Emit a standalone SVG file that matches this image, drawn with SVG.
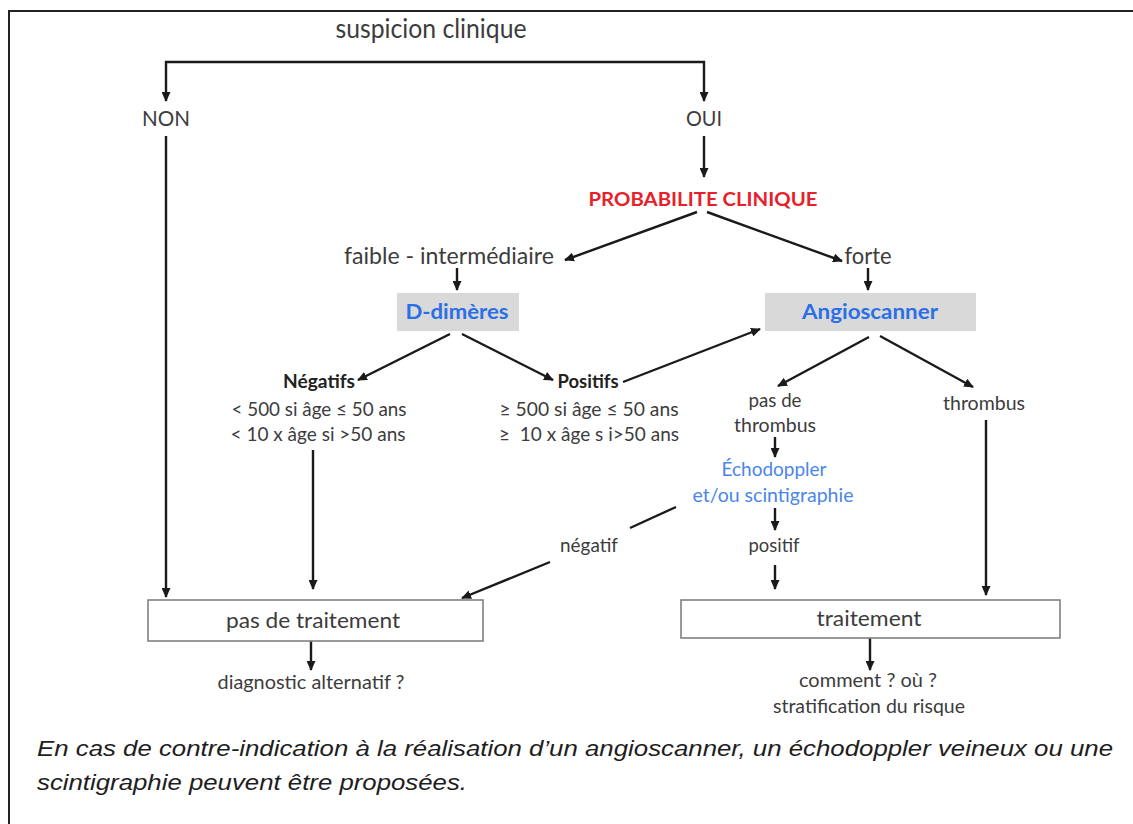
<svg xmlns="http://www.w3.org/2000/svg" width="1133" height="824" viewBox="0 0 1133 824">
<defs>
<marker id="ah" markerUnits="userSpaceOnUse" markerWidth="10" markerHeight="9" refX="9" refY="4.5" orient="auto">
<path d="M0,0 L10,4.5 L0,9 z" fill="#1a1a1a"/>
</marker>
<style>
.t{font-family:Lato,"Open Sans",sans-serif;fill:#3c3c3c;text-anchor:middle}
.b{font-weight:bold}
.c{stroke:#1a1a1a;stroke-width:2.4;fill:none}
.a{marker-end:url(#ah)}
.gray{fill:#d9d9d9}
.box{fill:#ffffff;stroke:#808080;stroke-width:1.6}
.foot{font-family:"Liberation Sans",Arial,sans-serif;font-style:italic;fill:#1e1e1e;font-size:22px}
</style>
</defs>
<rect width="1133" height="824" fill="#ffffff"/>
<path d="M9,824 V11 H1133" fill="none" stroke="#222" stroke-width="2"/>

<g id="connectors">
<path class="c a" d="M435,62 H166 V101"/>
<path class="c a" d="M435,62 H704 V101"/>
<path class="c a" d="M166,136 V597"/>
<path class="c a" d="M704,136 V177"/>
<path class="c a" d="M697,212 L565,260"/>
<path class="c a" d="M707,212 L842,261"/>
<path class="c a" d="M457,268 V290"/>
<path class="c a" d="M868,268 V290"/>
<path class="c a" d="M450,334 L358,380"/>
<path class="c a" d="M462,334 L553,380"/>
<path class="c a" d="M623,382 L760,329"/>
<path class="c a" d="M869,337 L778,386"/>
<path class="c a" d="M880,336 L973,387"/>
<path class="c a" d="M775,437 V457"/>
<path class="c a" d="M775,508 V530"/>
<path class="c a" d="M775,565 V589"/>
<path class="c a" d="M986,420 V595"/>
<path class="c" d="M676,507 L630,528"/>
<path class="c a" d="M550,562 L462,598"/>
<path class="c a" d="M313,450 V589"/>
<path class="c a" d="M311,641 V670"/>
<path class="c a" d="M870,638 V670"/>
</g>

<g id="suspicion"><text class="t" x="431" y="38" font-size="26" textLength="191" lengthAdjust="spacingAndGlyphs">suspicion clinique</text></g>
<g id="non"><text class="t" x="166" y="126" font-size="22" textLength="48" lengthAdjust="spacingAndGlyphs">NON</text></g>
<g id="oui"><text class="t" x="704" y="126" font-size="22" textLength="36" lengthAdjust="spacingAndGlyphs">OUI</text></g>
<g id="probabilite"><text class="t b" x="703" y="206" font-size="19" style="fill:#e8202a" textLength="229" lengthAdjust="spacingAndGlyphs">PROBABILITE CLINIQUE</text></g>
<g id="faible"><text class="t" x="449" y="264" font-size="23" textLength="210" lengthAdjust="spacingAndGlyphs">faible - intermédiaire</text></g>
<g id="forte"><text class="t" x="868" y="264" font-size="23" textLength="47" lengthAdjust="spacingAndGlyphs">forte</text></g>
<g id="ddimeres">
<rect class="gray" x="397" y="293" width="122" height="38"/>
<text class="t b" x="457" y="319" font-size="20" style="fill:#2a6fe6" textLength="103" lengthAdjust="spacingAndGlyphs">D-dimères</text>
</g>
<g id="angioscanner">
<rect class="gray" x="765" y="293" width="211" height="38"/>
<text class="t b" x="870" y="319" font-size="20" style="fill:#2a6fe6" textLength="136" lengthAdjust="spacingAndGlyphs">Angioscanner</text>
</g>
<g id="negatifs">
<text class="t b" x="319" y="388" font-size="19" style="fill:#222" textLength="72" lengthAdjust="spacingAndGlyphs">Négatifs</text>
<text class="t" x="319" y="416" font-size="20" textLength="175" lengthAdjust="spacingAndGlyphs">&lt; 500 si âge ≤ 50 ans</text>
<text class="t" x="318" y="441" font-size="20" textLength="175" lengthAdjust="spacingAndGlyphs">&lt; 10 x âge si &gt;50 ans</text>
</g>
<g id="positifs">
<text class="t b" x="588" y="388" font-size="19" style="fill:#222" textLength="61" lengthAdjust="spacingAndGlyphs">Positifs</text>
<text class="t" x="589" y="416" font-size="20" textLength="179" lengthAdjust="spacingAndGlyphs">≥ 500 si âge ≤ 50 ans</text>
<text class="t" x="589" y="441" font-size="20" textLength="180" lengthAdjust="spacingAndGlyphs" xml:space="preserve">≥  10 x âge s i&gt;50 ans</text>
</g>
<g id="pasdethrombus">
<text class="t" x="775" y="407" font-size="19" textLength="53" lengthAdjust="spacingAndGlyphs">pas de</text>
<text class="t" x="775" y="432" font-size="19" textLength="82" lengthAdjust="spacingAndGlyphs">thrombus</text>
</g>
<g id="thrombus"><text class="t" x="984" y="410" font-size="19" textLength="82" lengthAdjust="spacingAndGlyphs">thrombus</text></g>
<g id="echodoppler">
<text class="t" x="774" y="476" font-size="19" style="fill:#4a86e8" textLength="105" lengthAdjust="spacingAndGlyphs">Échodoppler</text>
<text class="t" x="773" y="502" font-size="19" style="fill:#4a86e8" textLength="161" lengthAdjust="spacingAndGlyphs">et/ou scintigraphie</text>
</g>
<g id="negatif"><text class="t" x="589" y="552" font-size="19" textLength="58" lengthAdjust="spacingAndGlyphs">négatif</text></g>
<g id="positif"><text class="t" x="774" y="552" font-size="19" textLength="51" lengthAdjust="spacingAndGlyphs">positif</text></g>
<g id="pasdetraitement">
<rect class="box" x="148" y="600" width="335" height="41"/>
<text class="t" x="313" y="628" font-size="21" textLength="174" lengthAdjust="spacingAndGlyphs">pas de traitement</text>
</g>
<g id="traitement">
<rect class="box" x="681" y="600" width="379" height="38"/>
<text class="t" x="869" y="626" font-size="21" textLength="105" lengthAdjust="spacingAndGlyphs">traitement</text>
</g>
<g id="diagnostic"><text class="t" x="311" y="689" font-size="19" textLength="187" lengthAdjust="spacingAndGlyphs">diagnostic alternatif ?</text></g>
<g id="comment">
<text class="t" x="868" y="687" font-size="19" textLength="138" lengthAdjust="spacingAndGlyphs">comment ? où ?</text>
<text class="t" x="869" y="713" font-size="19" textLength="192" lengthAdjust="spacingAndGlyphs">stratification du risque</text>
</g>
<g id="note">
<text class="foot" x="37" y="756" textLength="1076" lengthAdjust="spacingAndGlyphs">En cas de contre-indication à la réalisation d’un angioscanner, un échodoppler veineux ou une</text>
<text class="foot" x="37" y="790" textLength="430" lengthAdjust="spacingAndGlyphs">scintigraphie peuvent être proposées.</text>
</g>
</svg>
